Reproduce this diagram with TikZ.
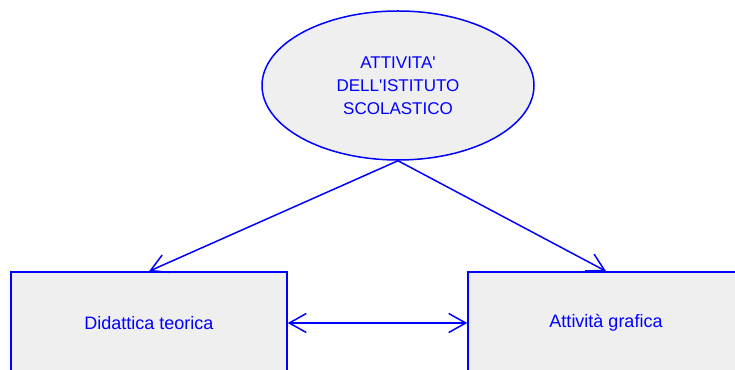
\documentclass[tikz,border=0pt]{standalone}
\usepackage{fontspec}
\setmainfont{Liberation Sans}
\usetikzlibrary{positioning,calc,arrows,arrows.meta,shapes.geometric}
\definecolor{boxgray}{RGB}{239,239,239}
\tikzset{font=\fontsize{18}{22}\selectfont}

\begin{document}
\begin{tikzpicture}[x=1pt, y=1pt]
	\useasboundingbox (0, 0) rectangle (735, 369);
	\clip (0, 0) rectangle (735, 369);
	\begin{scope}
		\tikzstyle{every node}=[align=center, inner sep=1pt, draw=blue, fill=boxgray, text=blue, line width=1.5pt]
		\tikzstyle{link}=[blue, line width=1.5pt, -{Straight Barb[length=17pt, width=19pt]}]
		\node[ellipse, minimum width=272pt, minimum height=149pt, font=\fontsize{17}{23}\selectfont] (act) at (398, 283.5) {ATTIVITA\textquotesingle\\DELL\textquotesingle ISTITUTO\\SCOLASTICO};
		\node[rectangle, minimum width=276pt, minimum height=102pt] (did) at (149, 46) {Didattica teorica};
		\node[rectangle, minimum width=276pt, minimum height=102pt] (gra) at (606, 46) {Attività grafica};

		\draw[link](act.south) -- (did.north);
		\draw[link](act.south) -- (gra.north);
		\draw[link, {Straight Barb[length=17pt, width=19pt]}-{Straight Barb[length=17pt, width=19pt]}](did.east) -- (gra.west);
	\end{scope}
\end{tikzpicture}
\end{document}
